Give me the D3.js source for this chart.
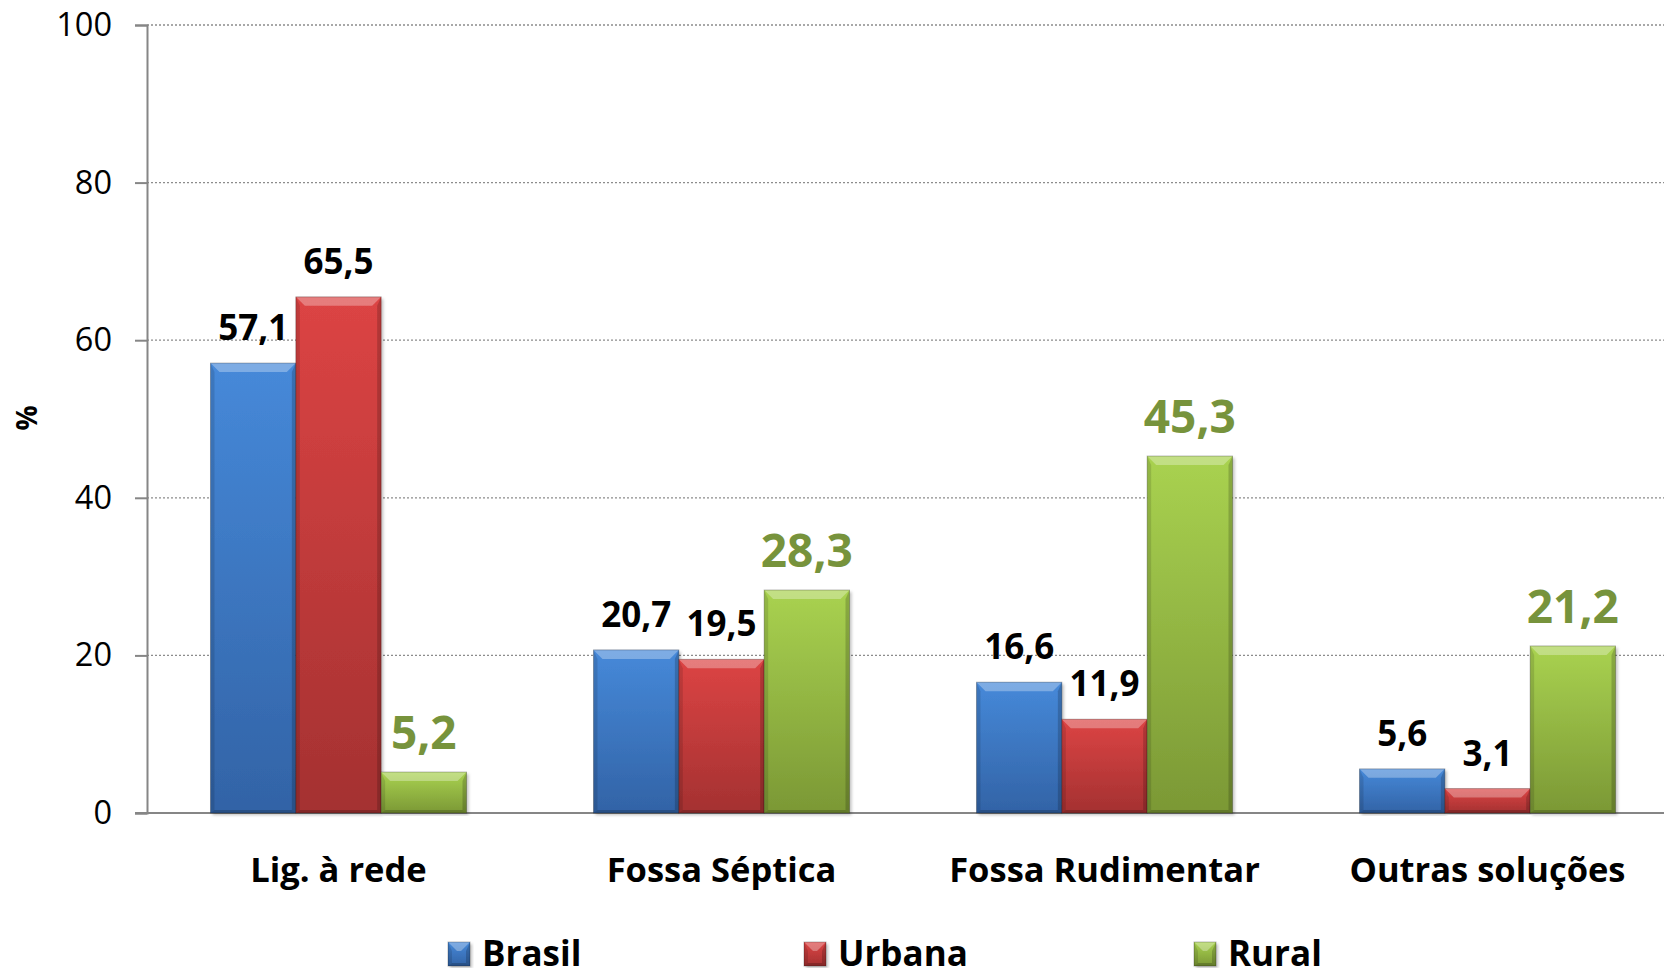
<!DOCTYPE html>
<html>
<head>
<meta charset="utf-8">
<script src="https://cdn.jsdelivr.net/npm/d3@7"></script>
<style>
  body { margin: 0; background: #fff; }
  svg { display: block; font-family: "Open Sans", sans-serif; }
</style>
</head>
<body>
<script>
var categories = ["Lig. à rede", "Fossa Séptica", "Fossa Rudimentar", "Outras soluções"];
var seriesNames = ["Brasil", "Urbana", "Rural"];
var brasil = [57.1, 20.7, 16.6, 5.6];
var urbana = [65.5, 19.5, 11.9, 3.1];
var rural = [5.2, 28.3, 45.3, 21.2];
var yTicks = [0, 20, 40, 60, 80, 100];

var width = 1664, height = 970;
var plotLeft = 147, plotTop = 25, plotBottom = 813;

// colours: [top, bottom] of each bar gradient
var colors = {
  Brasil: ["#4689d9", "#3263a6"],
  Urbana: ["#dc4444", "#a43131"],
  Rural: ["#a9d250", "#7b9835"]
};
var labelColor = { Brasil: "#000", Urbana: "#000", Rural: "#77933c" };

var table = categories.map(function(c, i) {
  return { cat: c, values: [
    { s: "Brasil", v: brasil[i] },
    { s: "Urbana", v: urbana[i] },
    { s: "Rural", v: rural[i] }
  ]};
});

var svg = d3.select("body").append("svg")
    .attr("width", width)
    .attr("height", height);

var defs = svg.append("defs");
seriesNames.forEach(function(s) {
  var g = defs.append("linearGradient").attr("id", "grad-" + s)
      .attr("x1", 0).attr("y1", 0).attr("x2", 0).attr("y2", 1);
  g.append("stop").attr("offset", "0%").attr("stop-color", colors[s][0]);
  g.append("stop").attr("offset", "100%").attr("stop-color", colors[s][1]);
});
var sh = defs.append("filter").attr("id", "shadow")
    .attr("x", "-10%").attr("y", "-5%").attr("width", "125%").attr("height", "110%");
sh.append("feDropShadow").attr("dx", 2).attr("dy", 2).attr("stdDeviation", 1.5)
    .attr("flood-color", "#000").attr("flood-opacity", 0.25);

var x0 = d3.scaleBand()
    .domain(categories)
    .range([plotLeft, 1679])
    .paddingInner(0.3316)
    .paddingOuter(0.1658);

var x1 = d3.scaleBand()
    .domain(seriesNames)
    .range([0, x0.bandwidth()]);

var y = d3.scaleLinear()
    .domain([0, 100])
    .range([plotBottom, plotTop]);

// grid lines
svg.append("g")
  .selectAll("line")
  .data(yTicks.filter(function(t) { return t > 0; }))
  .enter().append("line")
    .attr("x1", plotLeft).attr("x2", width)
    .attr("y1", function(d) { return y(d); })
    .attr("y2", function(d) { return y(d); })
    .attr("stroke", "#8c8c8c")
    .attr("stroke-width", 1.3)
    .attr("stroke-dasharray", "2,2");

// y axis
var yAxis = svg.append("g")
    .attr("transform", "translate(" + plotLeft + ",0)")
    .call(d3.axisLeft(y).tickValues(yTicks).tickSize(12).tickPadding(23));
yAxis.select(".domain").attr("stroke", "#868686").attr("stroke-width", 2);
yAxis.selectAll(".tick line").attr("stroke", "#868686").attr("stroke-width", 2);
yAxis.selectAll(".tick text")
    .attr("font-family", "Open Sans")
    .attr("font-size", 32.5)
    .attr("fill", "#000");

// baseline
svg.append("line")
    .attr("x1", plotLeft - 12).attr("x2", width)
    .attr("y1", y(0)).attr("y2", y(0))
    .attr("stroke", "#868686").attr("stroke-width", 2);

// y title
svg.append("text")
    .attr("transform", "translate(26,418) rotate(-90)")
    .attr("text-anchor", "middle")
    .attr("dominant-baseline", "central")
    .attr("font-size", 28)
    .attr("font-weight", "bold")
    .text("%");

// bars
function bevelBar(g, bx, by, bw, bh, s) {
  var b = Math.min(9, bh / 2);
  g.append("rect")
    .attr("x", bx).attr("y", by).attr("width", bw).attr("height", bh)
    .attr("fill", "url(#grad-" + s + ")")
    .attr("filter", "url(#shadow)");
  // top bevel
  g.append("polygon")
    .attr("points", [[bx, by], [bx + bw, by], [bx + bw - b, by + b], [bx + b, by + b]].join(" "))
    .attr("fill", "#fff").attr("fill-opacity", 0.3);
  // left bevel
  g.append("polygon")
    .attr("points", [[bx, by], [bx + 4, by + b], [bx + 4, by + bh - 3], [bx, by + bh]].join(" "))
    .attr("fill", "#000").attr("fill-opacity", 0.12);
  // right bevel
  g.append("polygon")
    .attr("points", [[bx + bw, by], [bx + bw - 4, by + b], [bx + bw - 4, by + bh - 3], [bx + bw, by + bh]].join(" "))
    .attr("fill", "#000").attr("fill-opacity", 0.18);
  // bottom bevel
  g.append("polygon")
    .attr("points", [[bx, by + bh], [bx + 4, by + bh - 3], [bx + bw - 4, by + bh - 3], [bx + bw, by + bh]].join(" "))
    .attr("fill", "#000").attr("fill-opacity", 0.2);
  g.append("rect")
    .attr("x", bx).attr("y", by).attr("width", bw).attr("height", bh)
    .attr("fill", "none")
    .attr("stroke", "#000").attr("stroke-opacity", 0.25).attr("stroke-width", 1);
}

var groups = svg.append("g").selectAll("g")
    .data(table)
    .enter().append("g")
    .attr("transform", function(d) { return "translate(" + x0(d.cat) + ",0)"; });

groups.each(function(d) {
  var g = d3.select(this);
  d.values.forEach(function(p) {
    bevelBar(g, x1(p.s), y(p.v), x1.bandwidth(), y(0) - y(p.v), p.s);
  });
  g.selectAll("text.val")
    .data(d.values)
    .enter().append("text")
      .attr("class", "val")
      .attr("x", function(p) { return x1(p.s) + x1.bandwidth() / 2; })
      .attr("y", function(p) { return y(p.v) - 23; })
      .attr("text-anchor", "middle")
      .attr("font-weight", "bold")
      .attr("font-size", function(p) { return p.s === "Rural" ? 46 : 35; })
      .attr("fill", function(p) { return labelColor[p.s]; })
      .text(function(p) { return String(p.v).replace(".", ","); });
});

// category labels
svg.append("g").selectAll("text")
    .data(categories)
    .enter().append("text")
      .attr("x", function(d) { return x0(d) + x0.bandwidth() / 2; })
      .attr("y", 882)
      .attr("text-anchor", "middle")
      .attr("font-weight", "bold")
      .attr("font-size", 34.5)
      .text(function(d) { return d; });

// legend
var legendX = [448, 804, 1194];
var legend = svg.append("g").selectAll("g")
    .data(seriesNames)
    .enter().append("g")
    .attr("transform", function(d, i) { return "translate(" + legendX[i] + ",0)"; });
legend.each(function(s) {
  var g = d3.select(this);
  bevelBar(g, 0, 942, 22, 24, s);
  g.append("text")
    .attr("x", 34).attr("y", 966)
    .attr("font-weight", "bold")
    .attr("font-size", 35)
    .text(s);
});
</script>
</body>
</html>
